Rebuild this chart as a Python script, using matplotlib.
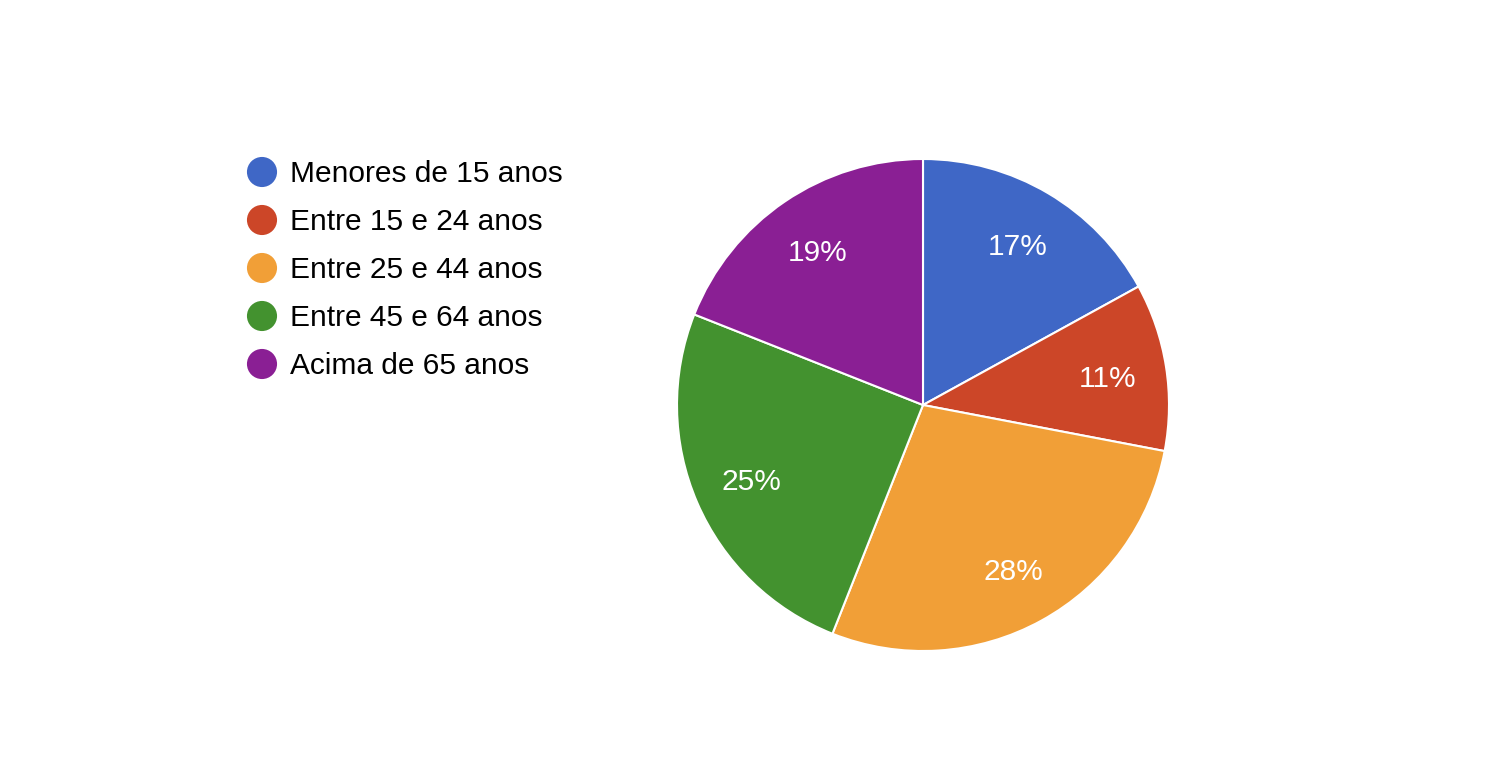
import matplotlib.pyplot as plt

labels = ['Menores de 15 anos', 'Entre 15 e 24 anos', 'Entre 25 e 44 anos',
          'Entre 45 e 64 anos', 'Acima de 65 anos']
values = [17, 11, 28, 25, 19]
colors = ['#3f67c6', '#cc4628', '#f19f37', '#43922f', '#8a1f94']

plt.rcParams['font.family'] = ['Liberation Sans', 'DejaVu Sans']

W, H = 1488, 782
fig = plt.figure(figsize=(W / 100, H / 100), dpi=100)

# pie axes: centre (923, 405) px, radius 246 px
cx, cy, r = 923, 405, 246
ax = fig.add_axes([(cx - r) / W, (H - cy - r) / H, 2 * r / W, 2 * r / H])
wedges, _, autotexts = ax.pie(values, colors=colors, startangle=90, counterclock=False,
                              radius=1, autopct='%d%%', pctdistance=0.76,
                              wedgeprops=dict(edgecolor='white', linewidth=1.5),
                              textprops=dict(color='white', fontsize=21.5))
for t in autotexts:
    x, y = t.get_position()
    t.set_position((x, y - 0.012))
ax.set_xlim(-1, 1)
ax.set_ylim(-1, 1)
ax.set_aspect('equal')
ax.axis('off')

# legend drawn in pixel space
lax = fig.add_axes([0, 0, 1, 1])
lax.set_xlim(0, W)
lax.set_ylim(H, 0)
lax.axis('off')
for i, (lab, col) in enumerate(zip(labels, colors)):
    y = 172 + 48 * i
    lax.scatter([262], [y], s=470, color=col, edgecolors='none')
    lax.text(290, y + 2, lab, fontsize=21.5, va='center', ha='left', color='black')

fig.savefig('out.png', dpi=100)
